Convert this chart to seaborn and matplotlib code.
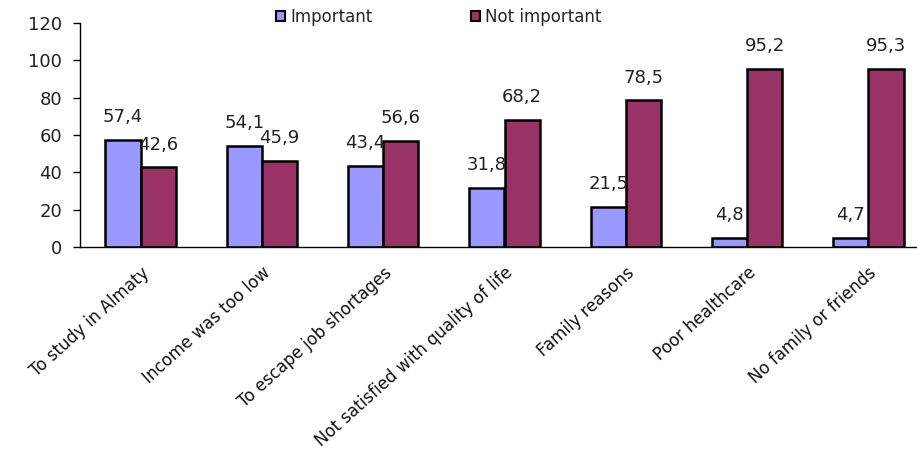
import matplotlib
matplotlib.use("Agg")
import matplotlib.pyplot as plt
import seaborn as sns
import pandas as pd
import numpy as np
from matplotlib.patches import Patch

categories = ["To study in Almaty", "Income was too low", "To escape job shortages",
              "Not satisfied with quality of life", "Family reasons", "Poor healthcare",
              "No family or friends"]
important = [57.4, 54.1, 43.4, 31.8, 21.5, 4.8, 4.7]
not_important = [42.6, 45.9, 56.6, 68.2, 78.5, 95.2, 95.3]
series = ["Important", "Not important"]
colors = ["#9999FF", "#993366"]
yticks = [0, 20, 40, 60, 80, 100, 120]

df = pd.DataFrame({
    "category": categories * 2,
    "value": important + not_important,
    "series": [series[0]] * len(categories) + [series[1]] * len(categories),
})

sns.set_style("white")
plt.rcParams["font.family"] = ["DejaVu Sans"]

fig = plt.figure(figsize=(9.17, 4.55), dpi=100)
ax = fig.add_axes([80 / 917, 1 - 247 / 455, 849 / 917, 224 / 455])

sns.barplot(data=df, x="category", y="value", hue="series", order=categories,
            hue_order=series, palette=colors, width=0.58, gap=0, saturation=1,
            edgecolor="black", linewidth=1.8, ax=ax, legend=False)

for cont in ax.containers:
    labels = [f"{b.get_height():.1f}".replace(".", ",") for b in cont]
    ax.bar_label(cont, labels=labels, padding=10, fontsize=13, color="#222222")

ax.set_xlim(-0.5, len(categories) - 0.5)
ax.set_ylim(0, 120)
ax.set_yticks(yticks)
ax.set_yticklabels([str(t) for t in yticks], fontsize=13, color="#222222")
ax.set_xlabel("")
ax.set_ylabel("")

ax.set_xticks(np.arange(len(categories)))
ax.set_xticklabels(categories, rotation=42, ha="right", rotation_mode="anchor",
                   fontsize=12, color="#111111")
ax.tick_params(axis="x", which="major", length=0, pad=12)
ax.set_xticks(np.arange(len(categories) + 1) - 0.5, minor=True)
ax.tick_params(axis="x", which="minor", length=5, width=1, color="black", direction="out")
ax.tick_params(axis="y", length=5, width=1, color="black", direction="out", left=True, pad=8)

for s in ["top", "right"]:
    ax.spines[s].set_visible(False)
for s in ["left", "bottom"]:
    ax.spines[s].set_color("black")
    ax.spines[s].set_linewidth(1)

handles = [Patch(facecolor=c, edgecolor="black", linewidth=1.5) for c in colors]
fig.legend(handles, series, loc="upper left", bbox_to_anchor=(266 / 917, 1.004),
           ncol=2, frameon=False, fontsize=12, handlelength=0.55, handleheight=0.55,
           handletextpad=0.3, columnspacing=5.9, borderaxespad=0.2)

fig.savefig("out.png", dpi=100)
